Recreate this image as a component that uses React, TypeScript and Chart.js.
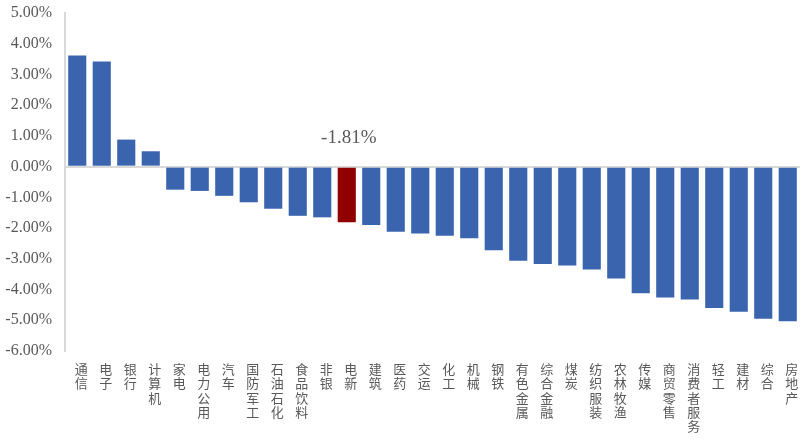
import React, { useEffect, useRef } from "react";
import { Chart, registerables } from "chart.js";

Chart.register(...registerables);

const categories = [
  "通信", "电子", "银行", "计算机", "家电", "电力公用", "汽车", "国防军工", "石油石化", "食品饮料",
  "非银", "电新", "建筑", "医药", "交运", "化工", "机械", "钢铁", "有色金属", "综合金融",
  "煤炭", "纺织服装", "农林牧渔", "传媒", "商贸零售", "消费者服务", "轻工", "建材", "综合", "房地产",
];
const values = [
  3.62, 3.42, 0.88, 0.5, -0.75, -0.79, -0.95, -1.16, -1.37, -1.6,
  -1.65, -1.81, -1.9, -2.12, -2.18, -2.25, -2.33, -2.72, -3.06, -3.17,
  -3.22, -3.35, -3.64, -4.12, -4.26, -4.32, -4.6, -4.72, -4.95, -5.03,
];
const highlightCategory = "电新";
const yMin = -6;
const yMax = 5;

const annotationPlugin = {
  id: "annot",
  afterDatasetsDraw(chart: any) {
    const idx = categories.indexOf(highlightCategory);
    const x = chart.scales.x.getPixelForValue(idx);
    const y = chart.scales.y.getPixelForValue(0.92);
    const ctx = chart.ctx;
    ctx.save();
    ctx.font = "19px 'Liberation Serif'";
    ctx.fillStyle = "#595959";
    ctx.textAlign = "center";
    ctx.textBaseline = "middle";
    ctx.fillText(values[idx].toFixed(2) + "%", x + 2, y);
    ctx.restore();
  },
};

export default function App() {
  const ref = useRef<HTMLCanvasElement>(null);
  useEffect(() => {
    const chart = new Chart(ref.current as HTMLCanvasElement, {
      type: "bar",
      data: {
        labels: categories.map((c) => c.split("")),
        datasets: [
          {
            data: values,
            backgroundColor: categories.map((c) => (c === highlightCategory ? "#900000" : "#3A65AE")),
            borderWidth: 0,
            barPercentage: 0.74,
            categoryPercentage: 1,
          },
        ],
      },
      options: {
        animation: false,
        responsive: false,
        maintainAspectRatio: false,
        layout: { padding: { left: 0, right: 4, top: 13, bottom: 0 } },
        plugins: { legend: { display: false }, tooltip: { enabled: false } },
        scales: {
          x: {
            grid: { display: false },
            border: { display: false },
            ticks: {
              maxRotation: 0,
              minRotation: 0,
              autoSkip: false,
              padding: 3,
              labelOffset: 4,
              color: "#595959",
              font: { family: "'Noto Sans CJK SC'", size: 13, lineHeight: 1.1 },
            },
            afterFit: (s: any) => {
              s.height = 89;
              s.paddingLeft = 0;
              s.paddingRight = 0;
            },
          },
          y: {
            min: yMin,
            max: yMax,
            ticks: {
              stepSize: 1,
              padding: 13,
              color: "#595959",
              font: { family: "'Liberation Serif'", size: 16 },
              callback: (v: any) => Number(v).toFixed(2) + "%",
            },
            grid: {
              drawTicks: false,
              color: (c: any) => (c.tick && c.tick.value === 0 ? "#d9d9d9" : "transparent"),
              lineWidth: 2,
            },
            border: { display: true, color: "#d9d9d9", width: 2 },
            afterFit: (s: any) => {
              s.width = 65;
              s.paddingTop = 0;
              s.paddingBottom = 0;
            },
          },
        },
      },
      plugins: [annotationPlugin],
    });
    return () => chart.destroy();
  }, []);
  return (
    <div style={{ position: "fixed", left: 0, top: 0, width: 804, height: 440, background: "#fff" }}>
      <canvas ref={ref} width={804} height={440} style={{ display: "block" }} />
    </div>
  );
}
